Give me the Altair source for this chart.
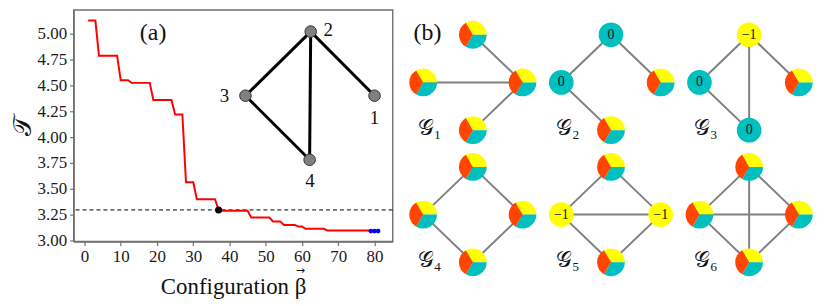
import math
import altair as alt
import pandas as pd

FONT = "Liberation Serif"

# ---------------- panel (a): sorted objective per configuration ----------------
configurations = list(range(1, 82))
T_values = [
    5.128, 5.128, 5.128,
    4.787, 4.787, 4.787, 4.787, 4.787, 4.787,
    4.549, 4.549, 4.549,
    4.524, 4.524, 4.524, 4.524, 4.524, 4.524,
    4.358, 4.358, 4.358, 4.358, 4.358, 4.358,
    4.218, 4.218, 4.218,
    3.563, 3.563, 3.563,
    3.398, 3.398, 3.398, 3.398, 3.398, 3.398,
    3.295,
    3.286, 3.286, 3.286, 3.286, 3.286, 3.286, 3.286, 3.286,
    3.222, 3.222, 3.222, 3.222, 3.222, 3.222,
    3.184, 3.184, 3.184,
    3.150, 3.150, 3.150, 3.150,
    3.134, 3.134,
    3.112, 3.112, 3.112, 3.112, 3.112, 3.112,
    3.097, 3.097, 3.097, 3.097, 3.097, 3.097,
    3.097, 3.097, 3.097, 3.097, 3.097, 3.097,
    3.090, 3.090, 3.090,
]
threshold_T = [3.295]
marked_config = [37]
marked_T = [3.295]
optimal_configs = [79, 80, 81]
optimal_T = [3.090, 3.090, 3.090]

x_ticks = [0, 10, 20, 30, 40, 50, 60, 70, 80]
y_ticks = [3.00, 3.25, 3.50, 3.75, 4.00, 4.25, 4.50, 4.75, 5.00]

# inset graph (drawn in the data coordinates of panel (a))
inset_ids = ["1", "2", "3", "4"]
inset_x = [80.0, 62.4, 44.4, 62.1]
inset_y = [4.40, 5.02, 4.40, 3.78]
inset_label_x = [80.0, 67.2, 38.6, 62.2]
inset_label_y = [4.183, 5.035, 4.40, 3.573]
inset_edges = [("2", "3"), ("2", "4"), ("2", "1"), ("3", "4")]

# ---------------- panel (b): six small graphs ----------------
graph_names = ["𝒢₁", "𝒢₂", "𝒢₃", "𝒢₄", "𝒢₅", "𝒢₆"]
graph_col = [0, 1, 2, 0, 1, 2]
graph_row = [0, 0, 0, 1, 1, 1]
slots = ["top", "left", "right", "bottom"]
slot_x = [0, -1, 1, 0]
slot_y = [1, 0, 0, -1]
node_states = [
    ["pie", "pie", "pie", "pie"],
    ["0", "0", "pie", "pie"],
    ["-1", "0", "pie", "0"],
    ["pie", "pie", "pie", "pie"],
    ["pie", "-1", "-1", "pie"],
    ["pie", "pie", "pie", "pie"],
]
graph_edges = [
    [("right", "top"), ("right", "left"), ("right", "bottom")],
    [("top", "left"), ("top", "right"), ("left", "bottom")],
    [("top", "left"), ("top", "bottom"), ("top", "right"), ("left", "bottom")],
    [("top", "right"), ("right", "bottom"), ("bottom", "left"), ("left", "top")],
    [("top", "left"), ("top", "right"), ("left", "right"), ("left", "bottom"), ("right", "bottom")],
    [("top", "left"), ("top", "right"), ("top", "bottom"), ("left", "right"), ("left", "bottom"), ("right", "bottom")],
]
pie_keys = ["yellow", "teal", "orange"]
pie_fractions = [1 / 3, 1 / 3, 1 / 3]
state_key = {"0": "teal", "-1": "yellow"}
state_text = {"0": "0", "-1": "−1"}
colour_keys = ["yellow", "teal", "orange"]
colour_values = ["#FFFF00", "#00BFBF", "#FF4500"]
COL_STEP = 2.78
ROW_STEP = 2.77

# ---------------- build panel (a) ----------------
xs = alt.Scale(domain=[-3, 85], nice=False, zero=False)
ys = alt.Scale(domain=[2.99, 5.23], nice=False, zero=False)
x_axis = alt.Axis(values=x_ticks, title="Configuration β", labelAngle=0)
y_axis = alt.Axis(values=y_ticks, format=".2f", title="𝒯")


def X(field):
    return alt.X(field, type="quantitative", scale=xs, axis=x_axis)


def Y(field):
    return alt.Y(field, type="quantitative", scale=ys, axis=y_axis)


curve_df = pd.DataFrame({"config": configurations, "T": T_values})
curve = alt.Chart(curve_df).mark_line(color="#FF0000", strokeWidth=2).encode(x=X("config"), y=Y("T"))

thr = alt.Chart(pd.DataFrame({"T": threshold_T})).mark_rule(
    color="black", strokeDash=[4, 3], strokeWidth=1
).encode(y=Y("T"))

marked = alt.Chart(pd.DataFrame({"config": marked_config, "T": marked_T})).mark_circle(
    color="black", size=50, opacity=1
).encode(x=X("config"), y=Y("T"))

optimal = alt.Chart(pd.DataFrame({"config": optimal_configs, "T": optimal_T})).mark_circle(
    color="#0000FF", size=22, opacity=1
).encode(x=X("config"), y=Y("T"))

pos = {i: (x, y) for i, x, y in zip(inset_ids, inset_x, inset_y)}
inset_edge_df = pd.DataFrame(
    [{"config": pos[a][0], "T": pos[a][1], "config2": pos[b][0], "T2": pos[b][1]} for a, b in inset_edges]
)
inset_edge = alt.Chart(inset_edge_df).mark_rule(color="black", strokeWidth=3).encode(
    x=X("config"), y=Y("T"), x2="config2", y2="T2"
)
inset_node_df = pd.DataFrame({"config": inset_x, "T": inset_y, "id": inset_ids})
inset_node = alt.Chart(inset_node_df).mark_circle(
    size=135, color="#808080", stroke="#333333", strokeWidth=1, opacity=1
).encode(x=X("config"), y=Y("T"))
inset_lab_df = pd.DataFrame({"config": inset_label_x, "T": inset_label_y, "id": inset_ids})
inset_lab = alt.Chart(inset_lab_df).mark_text(
    font=FONT, fontSize=19, color="#111111", baseline="middle", align="center"
).encode(x=X("config"), y=Y("T"), text="id:N")

label_a = alt.Chart(pd.DataFrame({"t": ["(a)"]})).mark_text(
    font=FONT, fontSize=24, color="#111111", baseline="middle", align="center"
).encode(x=alt.value(80), y=alt.value(23), text="t:N")

# vector arrow over the beta of the axis title
beta_arrow = alt.Chart(pd.DataFrame({"t": ["→"]})).mark_text(
    font="DejaVu Sans", fontSize=11, color="#111111", baseline="middle", align="center"
).encode(x=alt.value(228), y=alt.value(263), text="t:N")

left = alt.layer(
    thr, curve, marked, optimal, inset_edge, inset_node, inset_lab, label_a, beta_arrow
).properties(width=321, height=233)

# ---------------- build panel (b) ----------------
node_rows, pie_rows, edge_rows, label_rows = [], [], [], []
for g in range(6):
    gx = graph_col[g] * COL_STEP
    gy = -graph_row[g] * ROW_STEP
    npos = {}
    for s, sx, sy, st in zip(slots, slot_x, slot_y, node_states[g]):
        nx, ny = gx + sx, gy + sy
        npos[s] = (nx, ny)
        if st == "pie":
            acc = 0.0
            for k, f in zip(pie_keys, pie_fractions):
                pie_rows.append({"x": nx, "y": ny, "s0": acc, "s1": acc + f, "key": k})
                acc += f
        else:
            node_rows.append({"x": nx, "y": ny, "key": state_key[st], "txt": state_text[st]})
    for a, b in graph_edges[g]:
        edge_rows.append({"x": npos[a][0], "y": npos[a][1], "x2": npos[b][0], "y2": npos[b][1]})
    label_rows.append({"x": gx - 0.87, "y": gy - 0.95, "name": graph_names[g]})

rxs = alt.Scale(domain=[-1.434, 7.006], nice=False, zero=False)
rys = alt.Scale(domain=[-4.479, 1.521], nice=False, zero=False)
RX = alt.X("x:Q", scale=rxs, axis=None)
RY = alt.Y("y:Q", scale=rys, axis=None)
col_enc = alt.Color("key:N", scale=alt.Scale(domain=colour_keys, range=colour_values), legend=None)

edges_b = alt.Chart(pd.DataFrame(edge_rows)).mark_rule(color="#808080", strokeWidth=2).encode(
    x=RX, y=RY, x2="x2:Q", y2="y2:Q"
)
pies_b = alt.Chart(pd.DataFrame(pie_rows)).mark_arc(radius=14).encode(
    x=RX, y=RY,
    theta=alt.Theta("s0:Q", scale=alt.Scale(domain=[0, 1], range=[-math.pi / 6, 11 * math.pi / 6]), stack=False),
    theta2="s1:Q",
    color=col_enc,
)
solid_b = alt.Chart(pd.DataFrame(node_rows)).mark_circle(size=616, opacity=1).encode(
    x=RX, y=RY, color=col_enc
)
solid_txt = alt.Chart(pd.DataFrame(node_rows)).mark_text(
    font=FONT, fontSize=14, color="#111111", baseline="middle", align="center"
).encode(x=RX, y=RY, text="txt:N")
glabels = alt.Chart(pd.DataFrame(label_rows)).mark_text(
    font=FONT, fontSize=22, color="#111111", baseline="middle", align="center"
).encode(x=RX, y=RY, text="name:N")
label_b = alt.Chart(pd.DataFrame({"t": ["(b)"]})).mark_text(
    font=FONT, fontSize=24, color="#111111", baseline="middle", align="center"
).encode(x=alt.value(26), y=alt.value(23), text="t:N")

right = alt.layer(edges_b, pies_b, solid_b, solid_txt, glabels, label_b).properties(
    width=422, height=288, view=alt.ViewBackground(stroke="transparent")
)

chart = alt.hconcat(left, right, spacing=6).properties(
    padding={"left": 0, "top": 0, "right": 0, "bottom": 0}
).configure_view(
    stroke="#707070", strokeWidth=1.4
).configure_axis(
    labelFont=FONT, titleFont=FONT, labelFontSize=17, labelColor="#1a1a1a", titleColor="#111111",
    domainColor="#707070", domainWidth=1.4, tickColor="#707070", tickSize=4, tickWidth=1.2,
    labelPadding=3, grid=False
).configure_axisX(
    titleFontSize=23, titleFontWeight="normal", titlePadding=11
).configure_axisY(
    titleFontSize=26, titleFontWeight="normal", titlePadding=2
)

chart.save("out.html", embed_options={"renderer": "svg", "actions": False})
